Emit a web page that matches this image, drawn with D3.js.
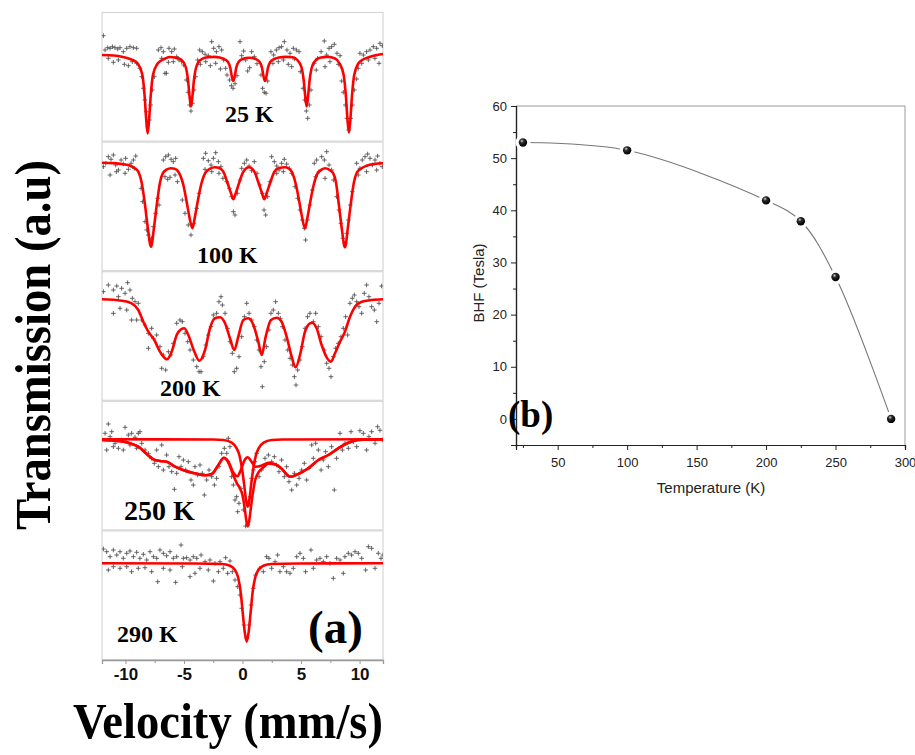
<!DOCTYPE html>
<html>
<head>
<meta charset="utf-8">
<script src="https://cdn.jsdelivr.net/npm/d3@7"></script>
<style>
  body { margin: 0; background: #fff; }
  svg { display: block; }
</style>
</head>
<body>
<svg id="chart" width="915" height="755"></svg>
<script>
// ---- (a) Mössbauer spectra: velocity (mm/s) vs transmission (a.u., baseline = 100) ----
const velocityTicks = [-10, -5, 0, 5, 10];
const velocityMinorTicks = [-7.5, -2.5, 2.5, 7.5];
const spectraLabels = ['25 K', '100 K', '200 K', '250 K', '290 K'];

const fit25 = [[-12,99.5],[-11,99],[-10.2,97.5],[-9.6,95.5],[-9.2,93.5],[-8.9,90],[-8.55,79.5],[-8.35,57],[-8.22,34.5],[-8.1,21],[-7.98,34.5],[-7.85,57],[-7.65,79.5],[-7.3,90],[-7,93.5],[-6.6,96],[-6.2,97.5],[-5.7,96.8],[-5.2,94.5],[-4.85,87.5],[-4.65,74],[-4.52,58],[-4.4,48],[-4.28,58],[-4.15,74],[-3.95,87.5],[-3.6,94.5],[-3,97.2],[-2.4,97.6],[-1.95,97],[-1.59,95.5],[-1.24,92.5],[-1.04,86.5],[-0.91,78],[-0.79,73.5],[-0.67,78],[-0.54,86.5],[-0.34,92.5],[0.01,95.5],[0.57,96.8],[1.12,95.5],[1.47,92.5],[1.67,86.5],[1.8,78],[1.92,73.5],[2.04,78],[2.17,86.5],[2.37,92.5],[2.72,95.5],[3.1,97],[3.7,97.6],[4.3,97.2],[4.68,94.5],[5.03,87.5],[5.23,74],[5.36,58],[5.48,48],[5.6,58],[5.73,74],[5.93,87.5],[6.28,94.5],[6.7,97],[7.28,97.6],[7.9,96],[8.29,91],[8.64,79.5],[8.84,57],[8.97,34.5],[9.09,22],[9.21,34.5],[9.34,57],[9.54,79.5],[9.89,91],[10.3,95],[10.9,97.8],[11.5,99.6],[12,100.5]];
const crosses25 = [[-11.88,118.8],[-11.74,104.5],[-11.51,106.8],[-11.31,106.2],[-11.11,107.8],[-10.89,106.8],[-10.66,105.5],[-10.46,106.8],[-10.18,102.8],[-9.89,106.2],[-9.61,107.8],[-9.32,106.8],[-9.04,106.2],[-11.46,96.2],[-11.03,92.2],[-10.6,94.5],[-10.09,90.2],[-9.75,88.8],[-9.41,92.8],[-9.04,91.2],[-8.76,86.2],[-8.61,77.8],[-8.47,66.2],[-8.33,54.5],[-8.21,42.8],[-8.1,27.8],[-7.95,34.5],[-7.84,49.5],[-7.7,64.5],[-7.53,77.8],[-7.19,104.5],[-6.96,106.8],[-6.76,102.8],[-6.62,81.2],[-6.5,81.2],[-6.28,106.2],[-6.05,102.8],[-5.82,105.5],[-5.62,97.8],[-5.42,94.5],[-5.2,92.8],[-5.03,89.5],[-6.9,96.2],[-6.33,92.2],[-5.91,92.8],[-4.8,74.5],[-4.65,62.2],[-4.51,49.5],[-4.4,43.5],[-4.28,51.2],[-4.14,64.5],[-4,77.8],[-3.83,94.5],[-3.66,104.5],[-3.43,102.8],[-3.2,100.2],[-2.92,98.8],[-2.63,112.8],[-2.46,106.2],[-2.23,102.8],[-2.01,107.8],[-1.78,104.5],[-1.61,94.5],[-1.44,86.2],[-1.32,79.5],[-3.6,90.2],[-2.75,88.8],[-2.29,91.2],[-1.89,85.5],[-3.14,92.8],[-1.1,74.5],[-0.95,68.8],[-0.81,66.2],[-0.64,70.8],[-0.47,78.8],[-0.21,112.8],[-0.07,98.8],[0.1,103.5],[0.27,94.5],[0.44,83.5],[0.61,86.8],[0.78,102.8],[1.01,97.8],[1.24,90.8],[1.58,79.5],[1.72,66.2],[1.86,62.2],[2.01,61.2],[2.15,73.5],[2.43,102.8],[2.66,99.5],[2.89,104.5],[3.12,106.8],[3.34,107.8],[3.57,112.8],[3.8,104.5],[4.06,101.2],[4.34,106.2],[4.6,104.5],[4.83,102.8],[2.6,91.2],[3.06,92.8],[3.49,94.5],[3.91,90.2],[4.43,95.5],[4.2,87.8],[4.94,82.8],[5.17,66.2],[5.31,54.5],[5.45,43.5],[5.57,36.2],[5.71,49.5],[5.85,64.5],[6.13,91.2],[6.42,96.2],[6.71,102.8],[6.99,113.5],[7.19,99.5],[7.39,106.2],[7.61,107.8],[7.84,110.2],[8.07,101.2],[8.33,98.8],[6.3,84.5],[7.05,87.8],[7.47,92.8],[8.18,90.2],[8.47,73.5],[8.61,62.2],[8.78,49.5],[8.92,36.2],[9.07,24.5],[9.24,36.2],[9.38,49.5],[9.55,64.5],[9.75,75.5],[10.03,101.2],[10.32,99.5],[10.6,102.8],[10.89,104.5],[11.17,107.8],[11.46,106.2],[11.74,111.2],[11.94,108.8],[10.18,91.2],[10.75,94.5],[11.31,96.2],[11.66,91.2],[9.89,86.2]];

const fit100 = [[-12,100],[-11,99.6],[-10.2,98.5],[-9.6,97],[-9.2,94.5],[-8.9,91],[-8.61,80],[-8.33,58],[-8.1,36],[-7.81,16],[-7.55,36],[-7.32,58],[-7.05,80],[-6.8,89.5],[-6.5,93],[-6.1,94.5],[-5.8,94],[-5.48,91],[-5.05,77.7],[-4.77,61],[-4.54,46],[-4.28,34.4],[-4.06,46],[-3.83,61],[-3.54,77.7],[-3.2,89.4],[-2.8,93.8],[-2.35,95.4],[-1.95,94.5],[-1.64,91],[-1.27,79.4],[-0.98,69.4],[-0.78,63.4],[-0.58,69.4],[-0.3,79.4],[0.07,91],[0.56,95.4],[1.01,91],[1.38,79.4],[1.67,69.4],[1.86,63.4],[2.06,69.4],[2.35,79.4],[2.72,91],[3.1,94.6],[3.63,95.4],[3.95,94.2],[4.2,91],[4.57,77.7],[4.85,61],[5.08,46],[5.34,34.4],[5.56,46],[5.79,61],[6.08,77.7],[6.42,89.5],[6.75,93],[7.05,94.4],[7.4,93],[7.74,89.5],[7.99,80],[8.23,58],[8.46,36],[8.75,15.4],[9.01,36],[9.24,58],[9.51,80],[9.76,90],[10.05,93.5],[10.6,97],[11.3,98.8],[12,99.4]];
const crosses100 = [[-11.88,96],[-11.68,99.4],[-11.46,106],[-11.23,103.4],[-11.03,107.7],[-10.83,97.7],[-10.6,92.7],[-10.37,102.7],[-10.18,98.7],[-9.98,104.4],[-9.75,93.4],[-9.52,99.4],[-9.32,102.7],[-9.12,106.7],[-11.31,87.7],[-10.77,91],[-10.03,89.4],[-9.24,94.4],[-8.67,74.4],[-8.53,61],[-8.33,41],[-8.18,32.7],[-8.04,27.7],[-7.9,22.7],[-7.76,24.4],[-7.61,36],[-7.42,49.4],[-7.24,64.4],[-7.13,57.7],[-6.76,102.7],[-6.56,106],[-6.33,107.7],[-6.1,103.4],[-5.91,101],[-5.71,104.4],[-6.62,86],[-6.39,83.4],[-6.19,85.4],[-5.76,87.7],[-5.56,81],[-5.14,62.7],[-4.91,49.4],[-4.63,37.7],[-4.4,27.7],[-4.17,39.4],[-3.91,54.4],[-3.71,69.4],[-3.34,104.4],[-3.15,109.4],[-2.92,102],[-2.69,97.7],[-2.49,104.4],[-2.29,110],[-2.06,101],[-1.84,96],[-3.2,93.4],[-2.63,91],[-2.01,89.4],[-1.67,84.4],[-1.35,81],[-1.12,74.4],[-0.93,66],[-0.78,51],[-0.64,47.7],[-0.44,69.4],[-0.21,82.7],[-0.07,94.4],[0.16,99.4],[0.36,102.7],[0.56,96.7],[0.78,92],[1.01,101],[1.24,89.4],[1.49,77.7],[1.69,69.4],[1.84,52.7],[1.98,47.7],[2.15,66],[2.35,81],[2.49,106],[2.72,101],[2.92,96.7],[3.12,92.7],[3.34,99.4],[3.57,103.4],[3.77,98.7],[4,94.4],[4.2,89.4],[2.92,89.4],[3.49,91],[4.48,76],[4.71,64.4],[4.91,52.7],[5.11,42.7],[5.28,34.4],[5.39,22.7],[5.56,42.7],[5.76,57.7],[5.96,72.7],[6.13,99.4],[6.33,102.7],[6.53,91],[6.76,106],[6.99,102.7],[7.19,111],[7.39,97.7],[7.61,92.7],[6.25,86],[7.05,84.4],[7.76,82.7],[8.04,66],[8.24,52.7],[8.41,39.4],[8.58,24.4],[8.75,19.4],[8.9,29.4],[9.04,42.7],[9.21,57.7],[9.38,71],[9.75,99.4],[10.03,94.4],[10.23,102.7],[10.46,106],[10.69,108.7],[10.89,104.4],[11.09,97.7],[11.32,102.7],[11.54,106.7],[11.74,99.4],[11.94,96],[9.89,87.7],[10.6,91],[11.46,92.7]];

const fit200 = [[-12,100.7],[-10.32,99.3],[-9.47,96.7],[-8.9,90],[-8.47,78.3],[-8.04,68.3],[-7.53,60],[-7.05,48.3],[-6.62,41.7],[-6.45,40.7],[-6.05,48.3],[-5.62,65],[-5.25,70.7],[-4.97,71.7],[-4.63,65],[-4.11,48.3],[-3.68,39.3],[-3.2,50],[-2.78,71.7],[-2.35,81.7],[-1.92,82.7],[-1.49,76.7],[-1.07,61.7],[-0.7,50],[-0.36,63.3],[0.07,80],[0.5,81.7],[0.93,75],[1.35,58.3],[1.64,45],[1.98,63.3],[2.43,80],[2.92,82.3],[3.34,78.3],[3.77,63.3],[4.2,43.3],[4.54,32.7],[4.91,45],[5.34,68.3],[5.76,76.7],[5.96,77.3],[6.33,71.7],[6.76,55],[7.19,42.7],[7.56,38.3],[7.9,46.7],[8.33,58.3],[8.75,68.3],[9.18,83.3],[9.61,93.3],[10.18,98.3],[11.03,100],[12,100.7]];
const crosses200 = [[-11.88,108.3],[-11.46,115],[-11.03,110],[-10.74,114],[-10.6,103.3],[-10.32,111.7],[-10.03,106.7],[-9.81,117.3],[-9.61,110],[-9.41,101.7],[-9.18,98.3],[-11.03,86.7],[-10.46,91.7],[-9.89,90],[-9.47,80],[-9.04,80],[-8.9,96.7],[-8.61,80],[-8.33,75],[-8.04,66.7],[-7.76,71.7],[-7.61,61.7],[-7.33,65],[-8.04,51.7],[-7.05,53.3],[-6.76,45],[-6.9,31.7],[-6.56,30],[-6.33,48.3],[-6.1,45],[-5.91,56.7],[-5.62,76.7],[-5.34,80],[-5.14,78.3],[-4.91,66.7],[-4.68,58.3],[-4.48,50],[-4.2,40],[-3.91,33.3],[-3.71,28.3],[-3.54,28.3],[-3.34,43.3],[-3.14,55],[-2.92,65],[-2.69,73.3],[-2.49,85],[-2.21,86.7],[-2.01,98.3],[-1.84,103.3],[-1.72,95],[-1.49,86.7],[-1.27,71.7],[-1.07,58.3],[-0.87,46.7],[-0.7,28.3],[-0.5,31.7],[-0.3,43.3],[-0.07,63.3],[0.16,83.3],[0.36,96.7],[0.56,86.7],[0.78,80],[1.01,73.3],[1.21,60],[1.41,50],[1.58,33.3],[1.69,13.3],[1.86,38.3],[2.06,53.3],[2.26,70],[2.43,86.7],[2.63,90],[2.83,98.3],[3.06,86.7],[3.23,81.7],[3.4,73.3],[3.63,60],[3.86,50],[4.06,41.7],[4.26,35],[4.43,23.3],[4.57,15],[4.71,30],[4.91,40],[5.11,53.3],[5.34,71.7],[5.56,83.3],[5.76,86.7],[6.05,78.3],[6.25,86.7],[6.48,73.3],[6.71,63.3],[6.99,50],[7.19,36.7],[7.39,31.7],[7.56,23.3],[7.76,43.3],[7.96,51.7],[8.18,56.7],[8.41,63.3],[8.61,71.7],[8.81,83.3],[8.98,65],[9.18,96.7],[9.38,101.7],[9.55,105],[9.75,98.3],[9.95,93.3],[10.18,86.7],[10.4,106.7],[10.6,115],[10.8,103.3],[11.03,93.3],[11.26,90],[11.46,78.3],[11.66,96.7],[11.88,114]];

// 250 K: narrow paramagnetic line, broad relaxed component, total fit
const singlet250 = [[-12,100],[-2.5,99.8],[-1.64,99.3],[-0.92,96.6],[-0.5,91],[-0.27,84.3],[-0.07,72.6],[0.13,56],[0.3,39.3],[0.44,32.6],[0.58,39.3],[0.75,56],[0.95,72.6],[1.15,84.3],[1.38,91],[1.8,96.6],[2.5,99.3],[3.4,99.8],[12,100]];
const broad250 = [[-12,99.3],[-10.9,98.6],[-9.75,96.6],[-8.9,92.6],[-8.18,85.3],[-7.61,80],[-7.05,78.3],[-6.48,77.6],[-5.76,72.6],[-4.91,68.6],[-4.06,66],[-3.2,64],[-2.63,65.3],[-2.06,74.3],[-1.6,81.5],[-1.2,77.5],[-0.8,67],[-0.45,63],[-0.15,69],[0.15,78.5],[0.44,82],[0.75,78],[1.1,72.5],[1.6,73.5],[2.2,76.5],[2.8,75],[3.3,71],[4.06,62.6],[4.77,65.3],[5.62,71],[6.48,79.3],[7.33,84.3],[8.18,91],[9.04,96.6],[9.89,99.3],[12,100]];
const total250 = [[-12,99.3],[-10.9,98.6],[-9.75,96.6],[-8.9,92.6],[-8.18,85.3],[-7.61,80],[-7.05,78.3],[-6.48,77.6],[-5.76,72.6],[-4.91,68.6],[-4.06,66],[-3.2,64],[-2.63,65.3],[-2.06,74.3],[-1.6,81.3],[-1.2,76.5],[-0.8,64.5],[-0.5,56.5],[-0.25,51.5],[0,44],[0.2,30],[0.35,17],[0.44,13],[0.55,17],[0.7,30],[0.88,46],[1.1,60],[1.4,67.5],[1.8,72],[2.2,75.5],[2.8,74.8],[3.3,71],[4.06,62.6],[4.77,65.3],[5.62,71],[6.48,79.3],[7.33,84.3],[8.18,91],[9.04,96.6],[9.89,99.3],[12,100]];
const crosses250 = [[-11.46,115.3],[-11.74,106],[-11.17,107.6],[-11.31,102.6],[-10.89,96],[-10.6,91],[-10.32,99.3],[-10.03,112],[-9.75,104.3],[-9.47,106],[-9.18,102],[-8.9,106],[-8.76,107.6],[-11.6,89.3],[-11.03,92.6],[-10.18,89.3],[-9.61,94.3],[-9.04,91],[-8.61,96],[-8.33,89.3],[-8.04,86],[-7.76,81],[-7.53,76],[-7.33,89.3],[-7.19,72.6],[-6.9,94.3],[-6.76,69.3],[-6.48,84.3],[-6.28,72.6],[-6.05,67.6],[-5.82,50],[-5.62,66],[-5.42,82.6],[-5.25,72.6],[-5.05,79.3],[-4.85,69.3],[-4.63,77.6],[-4.4,59.3],[-4.2,54.3],[-4.06,72.6],[-3.83,64.3],[-3.63,74.3],[-3.43,66],[-3.26,44.3],[-3.06,59.3],[-2.86,69.3],[-2.63,62.6],[-2.4,54.3],[-2.21,61],[-2.01,72.6],[-1.78,86],[-1.55,91],[-1.35,86],[-1.21,101],[-1.07,92.6],[-0.93,62.6],[-0.78,54.3],[-0.64,39.3],[-0.5,42.6],[-0.41,27.6],[-0.3,36],[-0.13,51],[0.07,29.3],[0.27,13.3],[0.44,14.3],[0.56,34.3],[0.67,42.6],[0.78,61],[0.93,69.3],[1.07,77.6],[1.21,86],[1.41,62.6],[1.64,69.3],[1.92,81],[2.21,84.3],[2.49,77.6],[2.72,82.6],[2.92,74.3],[3.12,67.6],[3.34,79.3],[3.57,62.6],[3.77,72.6],[3.97,57.6],[4.2,49.3],[4.43,66],[4.63,54.3],[4.83,61],[5.05,69.3],[5.28,76],[5.48,59.3],[5.68,71],[5.91,94.3],[6.05,81],[6.25,96],[6.48,89.3],[6.71,69.3],[6.9,79.3],[7.1,87.6],[7.33,72.6],[7.61,92.6],[7.84,49.3],[8.04,81],[8.33,106],[8.53,89.3],[8.75,96],[9.04,91],[9.27,107.6],[9.47,97.6],[9.75,92.6],[10.03,108.6],[10.32,106],[10.6,89.3],[10.8,102.6],[11.03,107.6],[11.32,96],[11.54,112.6],[11.74,109],[11.94,99.3]];

const fit290 = [[-12,100],[-4,99.8],[-1.78,99.3],[-1.07,97.6],[-0.64,93.3],[-0.36,85],[-0.16,71.6],[0.01,51.6],[0.19,31.6],[0.36,21.6],[0.53,31.6],[0.7,51.6],[0.87,71.6],[1.07,85],[1.35,93.3],[1.78,97.6],[2.49,99.3],[4.7,99.8],[12,100]];
const crosses290 = [[-11.88,114.3],[-11.6,111.6],[-11.31,106.6],[-11.03,113.3],[-10.74,108.3],[-10.46,111.6],[-10.18,105],[-9.89,110],[-9.61,112.3],[-9.32,106.6],[-9.04,111],[-8.76,105],[-8.47,109],[-8.18,103.3],[-7.9,111.6],[-7.61,106.6],[-7.33,105],[-7.05,113.3],[-6.76,110],[-6.48,107.6],[-6.19,111.6],[-5.91,105],[-5.62,106.6],[-5.25,118.3],[-5.05,105],[-4.77,105.6],[-4.48,103.3],[-4.2,106.6],[-3.91,105],[-3.54,108.3],[-3.2,101.6],[-2.78,103.3],[-2.35,100],[-1.92,101.6],[-1.44,105.6],[-1.07,102.3],[-11.46,93.3],[-11.03,96.6],[-10.46,95],[-9.89,96.6],[-9.47,91.6],[-8.9,95],[-8.33,95.6],[-7.76,91.6],[-7.24,81.6],[-6.76,95],[-6.19,93.3],[-5.71,81],[-5.14,96.6],[-4.48,86.6],[-4.06,90],[-3.63,95],[-2.92,93.3],[-2.49,82.3],[-2.06,91.6],[-1.64,95],[-1.27,90],[-0.87,91.6],[-0.64,83.3],[-0.41,76.6],[-0.21,68.3],[-0.07,55],[0.13,38.3],[0.36,25],[0.56,38.3],[0.73,58.3],[0.93,75],[1.12,88.3],[1.49,95],[1.78,91.6],[2.06,106.6],[2.26,105],[2.49,95],[2.78,101.6],[3,108.3],[3.2,91.6],[3.49,96.6],[3.77,91.6],[4.06,90],[4.34,95],[4.63,106.6],[4.91,110],[5.2,105],[5.39,91.6],[5.85,113.3],[6.05,95],[6.33,103.3],[6.62,105],[6.9,101.6],[7.19,106.6],[7.47,100],[7.76,85],[8.04,105],[8.33,103.3],[8.61,90],[8.75,106.6],[9.04,110],[9.32,108.3],[9.61,111.6],[9.89,110],[10.18,105],[10.52,93.3],[10.75,116.6],[11.03,115],[11.32,95],[11.6,110],[11.83,105],[12,108.3]];

// ---- (b) hyperfine field vs temperature ----
const temperatures = [25, 100, 200, 225, 250, 290];
const bhfValues = [53.0, 51.5, 41.9, 37.9, 27.2, 0.0];
const tempTicks = [50, 100, 150, 200, 250, 300];
const tempMinorTicks = [25, 75, 125, 175, 225, 275];
const bhfTicks = [0, 10, 20, 30, 40, 50, 60];
const bhfMinorTicks = [5, 15, 25, 35, 45, 55];

const SERIF = '"Liberation Serif", "Times New Roman", serif';
const SANS = '"Liberation Sans", Arial, sans-serif';

const svg = d3.select('#chart');

/**
 * 左侧穆斯堡尔谱堆叠面板
 */
function drawSpectra() {
  const left = 102, right = 383, top = 12, bottom = 660;
  const panelH = (bottom - top) / 5;
  const x = d3.scaleLinear().domain([-12, 12]).range([left, right]);

  // base = pixel row of the 100 a.u. baseline inside each panel
  const panels = [
    { fits: [fit25], crosses: crosses25, base: 54.5, lx: 225, ly: 122, size: 24 },
    { fits: [fit100], crosses: crosses100, base: 162.7, lx: 197, ly: 263, size: 24 },
    { fits: [fit200], crosses: crosses200, base: 300, lx: 160, ly: 396, size: 24 },
    { fits: [singlet250, broad250, total250], crosses: crosses250, base: 439.3, lx: 124, ly: 520, size: 28 },
    { fits: [fit290], crosses: crosses290, base: 563.3, lx: 117, ly: 642, size: 24 }
  ];

  panels.forEach((p, i) => {
    const y0 = top + i * panelH;
    const y1 = y0 + panelH;
    const y = d3.scaleLinear()
      .domain([100 - (y1 - p.base), 100 + (p.base - y0)])
      .range([y1, y0]);

    svg.append('clipPath').attr('id', `clip${i}`)
      .append('rect').attr('x', left).attr('y', y0).attr('width', right - left).attr('height', panelH);

    svg.append('rect')
      .attr('x', left).attr('y', y0 + 0.5)
      .attr('width', right - left).attr('height', panelH - 1)
      .attr('fill', 'none').attr('stroke', '#d6d6d6').attr('stroke-width', 1.2);

    const g = svg.append('g').attr('clip-path', `url(#clip${i})`);

    g.selectAll('path.cross')
      .data(p.crosses)
      .enter()
      .append('path')
      .attr('class', 'cross')
      .attr('d', d => {
        const cx = x(d[0]), cy = y(d[1]);
        return `M${cx - 2.3},${cy}h4.6M${cx},${cy - 2.3}v4.6`;
      })
      .attr('stroke', '#555')
      .attr('stroke-width', 0.9);

    const line = d3.line()
      .x(d => x(d[0]))
      .y(d => y(d[1]))
      .curve(d3.curveMonotoneX);

    p.fits.forEach(f => {
      g.append('path')
        .datum(f)
        .attr('d', line)
        .attr('fill', 'none')
        .attr('stroke', '#ff0000')
        .attr('stroke-width', 2.6)
        .attr('stroke-linejoin', 'round');
    });

    svg.append('text')
      .attr('x', p.lx).attr('y', p.ly)
      .attr('font-family', SERIF).attr('font-weight', 'bold')
      .attr('font-size', p.size)
      .text(spectraLabels[i]);
  });

  // 速度轴
  const axis = svg.append('g')
    .attr('transform', `translate(0,${bottom})`)
    .call(d3.axisBottom(x).tickValues(velocityTicks).tickSize(4).tickPadding(4).tickFormat(d3.format('d')));
  axis.select('.domain').attr('stroke', '#999').attr('stroke-width', 1.3);
  axis.selectAll('.tick line').attr('stroke', '#999');
  axis.selectAll('text')
    .attr('font-family', SANS).attr('font-weight', 'bold')
    .attr('font-size', 17).attr('fill', '#111')
    .text(d => d < 0 ? '-' + Math.abs(d) : d);

  const minor = svg.append('g')
    .attr('transform', `translate(0,${bottom})`)
    .call(d3.axisBottom(x).tickValues(velocityMinorTicks).tickSize(3).tickFormat(''));
  minor.select('.domain').remove();
  minor.selectAll('.tick line').attr('stroke', '#999');

  svg.append('text')
    .attr('transform', 'translate(50,345) rotate(-90)')
    .attr('text-anchor', 'middle')
    .attr('font-family', SERIF).attr('font-weight', 'bold').attr('font-size', 50)
    .attr('textLength', 370).attr('lengthAdjust', 'spacingAndGlyphs')
    .text('Transmission (a.u)');

  svg.append('text')
    .attr('x', 228).attr('y', 738)
    .attr('text-anchor', 'middle')
    .attr('font-family', SERIF).attr('font-weight', 'bold').attr('font-size', 50)
    .attr('textLength', 310).attr('lengthAdjust', 'spacingAndGlyphs')
    .text('Velocity (mm/s)');

  svg.append('text')
    .attr('x', 308).attr('y', 643)
    .attr('font-family', SERIF).attr('font-weight', 'bold').attr('font-size', 47)
    .text('(a)');
}

/**
 * 右侧 BHF-温度曲线
 */
function drawBhf() {
  const x = d3.scaleLinear().domain([20, 300]).range([516, 905]);
  const y = d3.scaleLinear().domain([-5, 60]).range([445, 106]);
  const pts = temperatures.map((t, i) => [t, bhfValues[i]]);

  // 上、右边框
  svg.append('path')
    .attr('d', `M${x(20)},${y(60)}H${x(300)}V${y(-5)}`)
    .attr('fill', 'none').attr('stroke', '#9a9a9a').attr('stroke-width', 1);

  const styleAxis = (g, labels) => {
    g.select('.domain').attr('stroke', '#222').attr('stroke-width', 1.2);
    g.selectAll('.tick line').attr('stroke', '#222');
    if (labels) {
      g.selectAll('text').attr('font-family', SANS).attr('font-size', 13).attr('fill', '#222');
    }
  };

  const xAxis = svg.append('g').attr('transform', `translate(0,${y(-5)})`)
    .call(d3.axisBottom(x).tickValues(tempTicks).tickSize(5).tickPadding(8));
  styleAxis(xAxis, true);
  const xMinor = svg.append('g').attr('transform', `translate(0,${y(-5)})`)
    .call(d3.axisBottom(x).tickValues(tempMinorTicks).tickSize(3).tickFormat(''));
  styleAxis(xMinor, false);

  const yAxis = svg.append('g').attr('transform', `translate(${x(20)},0)`)
    .call(d3.axisLeft(y).tickValues(bhfTicks).tickSize(5).tickPadding(4));
  styleAxis(yAxis, true);
  const yMinor = svg.append('g').attr('transform', `translate(${x(20)},0)`)
    .call(d3.axisLeft(y).tickValues(bhfMinorTicks).tickSize(3).tickFormat(''));
  styleAxis(yMinor, false);

  const line = d3.line()
    .x(d => x(d[0]))
    .y(d => y(d[1]))
    .curve(d3.curveCatmullRom.alpha(0.5));

  svg.append('path')
    .datum(pts)
    .attr('d', line)
    .attr('fill', 'none')
    .attr('stroke', '#777')
    .attr('stroke-width', 1.1);

  // 点周围留白
  svg.selectAll('circle.gap')
    .data(pts).enter().append('circle')
    .attr('class', 'gap')
    .attr('cx', d => x(d[0])).attr('cy', d => y(d[1]))
    .attr('r', 7.5).attr('fill', '#fff');

  const grad = svg.append('defs').append('radialGradient')
    .attr('id', 'ball').attr('cx', '38%').attr('cy', '32%').attr('r', '65%');
  grad.append('stop').attr('offset', '0%').attr('stop-color', '#d0d0d0');
  grad.append('stop').attr('offset', '35%').attr('stop-color', '#2a2a2a');
  grad.append('stop').attr('offset', '100%').attr('stop-color', '#000');

  svg.selectAll('circle.pt')
    .data(pts).enter().append('circle')
    .attr('class', 'pt')
    .attr('cx', d => x(d[0])).attr('cy', d => y(d[1]))
    .attr('r', 4.2).attr('fill', 'url(#ball)');

  svg.append('text')
    .attr('x', 711).attr('y', 493)
    .attr('text-anchor', 'middle')
    .attr('font-family', SANS).attr('font-size', 15).attr('fill', '#222')
    .text('Temperature (K)');

  svg.append('text')
    .attr('transform', 'translate(484,283) rotate(-90)')
    .attr('text-anchor', 'middle')
    .attr('font-family', SANS).attr('font-size', 15).attr('fill', '#222')
    .text('BHF (Tesla)');

  svg.append('text')
    .attr('x', 508).attr('y', 427)
    .attr('font-family', SERIF).attr('font-weight', 'bold').attr('font-size', 37)
    .text('(b)');
}

drawSpectra();
drawBhf();
</script>
</body>
</html>
